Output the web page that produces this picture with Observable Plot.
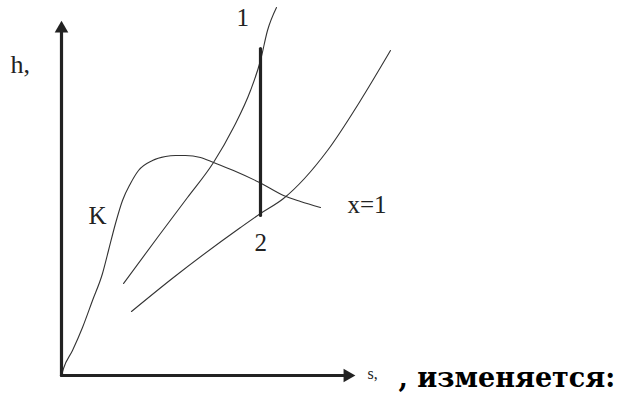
<!DOCTYPE html>
<html>
<head>
<meta charset="utf-8">
<script src="https://cdn.jsdelivr.net/npm/d3@7"></script>
<script src="https://cdn.jsdelivr.net/npm/@observablehq/plot@0.6"></script>
<style>
  html, body { margin: 0; padding: 0; background: #fff; }
</style>
</head>
<body>
<div id="chart"></div>
<script>
// Saturation curve K (s, h)
const curveK_s = [0, 2, 11, 21, 31, 41, 47, 54, 61, 69, 77, 91, 104, 114, 124, 139, 152, 172, 198, 222, 239, 259];
const curveK_h = [0, 7, 25, 48, 75, 102, 125, 152, 175, 192, 205, 215, 219, 220, 220, 218, 213, 205, 193, 180, 174, 168];
// Isobar through point 1
const iso1_s = [62, 96, 126, 152, 172, 189, 199, 206, 215];
const iso1_h = [92, 138, 178, 213, 248, 285, 315, 345, 368];
// Isobar through point 2
const iso2_s = [70, 112, 179, 199, 222, 266, 299, 329];
const iso2_h = [64, 98, 148, 162, 177, 225, 275, 325];
// Process 1-2 (isentropic expansion)
const proc_s = [199, 199];
const proc_h = [327, 160];
// Axes extents
const axisS = [0, 292];
const axisH = [0, 353];
// Labels
const labels = [
  {s: -51, h: 303, text: "h,", size: 26},
  {s: 175, h: 350, text: "1", size: 25},
  {s: 193, h: 125, text: "2", size: 25},
  {s: 286, h: 163, text: "x=1", size: 25},
  {s: 27, h: 152, text: "K", size: 25},
  {s: 306, h: -3, text: "s,", size: 16}
];
const tailText = [{s: 337, h: -11, text: ", изменяется:"}];

const toPts = (xs, ys) => xs.map((s, i) => ({s, h: ys[i]}));
const K = toPts(curveK_s, curveK_h);
const I1 = toPts(iso1_s, iso1_h);
const I2 = toPts(iso2_s, iso2_h);
const P = toPts(proc_s, proc_h);

const chart = Plot.plot({
  width: 621,
  height: 397,
  marginLeft: 61,
  marginRight: 0,
  marginTop: 0,
  marginBottom: 22,
  x: {domain: [0, 560], axis: null},
  y: {domain: [0, 375], axis: null},
  style: {fontFamily: "'Liberation Serif', serif", background: "#fff"},
  marks: [
    Plot.line(K, {x: "s", y: "h", stroke: "#333", strokeWidth: 1.1, curve: "monotone-x"}),
    Plot.line(I1, {x: "s", y: "h", stroke: "#333", strokeWidth: 1.1, curve: "monotone-x"}),
    Plot.line(I2, {x: "s", y: "h", stroke: "#333", strokeWidth: 1.1, curve: "monotone-x"}),
    Plot.line(P, {x: "s", y: "h", stroke: "#222", strokeWidth: 3.2}),
    // axes
    Plot.line([{s: 0, h: 0}, {s: 0, h: axisH[1] - 10}], {x: "s", y: "h", stroke: "#222", strokeWidth: 3.2}),
    Plot.line([{s: 0, h: 0}, {s: axisS[1] - 10, h: 0}], {x: "s", y: "h", stroke: "#222", strokeWidth: 3.2}),
    Plot.dot([{s: 0, h: axisH[1] - 6}], {x: "s", y: "h", symbol: "triangle2", r: 6.5, fill: "#222"}),
    Plot.dot([{s: axisS[1] - 6, h: 0}], {x: "s", y: "h", symbol: "triangle2", r: 6.5, fill: "#222", rotate: 90}),
    Plot.text(labels, {x: "s", y: "h", text: "text", fontSize: d => d.size, textAnchor: "start", lineAnchor: "bottom", fill: "#222"}),
    Plot.text(tailText, {x: "s", y: "h", text: "text", fontSize: 27, fontWeight: "bold", fontFamily: "'DejaVu Serif', serif", textAnchor: "start", lineAnchor: "bottom", fill: "#000"})
  ]
});
document.getElementById("chart").appendChild(chart);
</script>
</body>
</html>
